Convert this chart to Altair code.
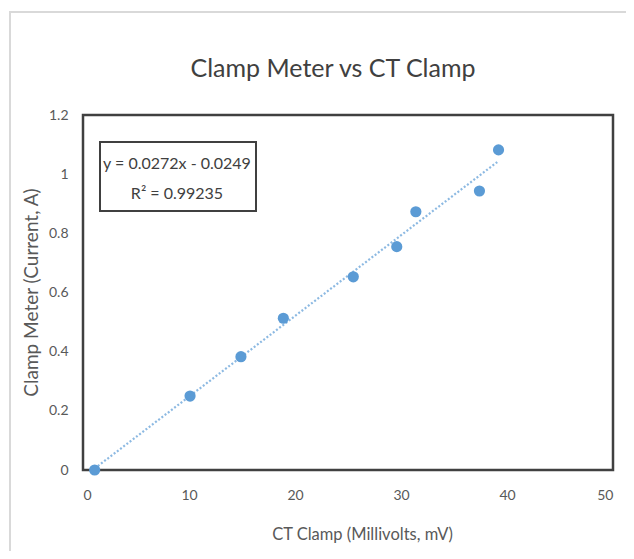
import altair as alt
import pandas as pd

ct_mv = [1.1, 10.1, 14.9, 18.9, 25.5, 29.6, 31.4, 37.4, 39.2]
current_a = [0.0, 0.25, 0.383, 0.513, 0.653, 0.755, 0.873, 0.943, 1.082]
eq_line1 = "y = 0.0272x - 0.0249"
eq_line2 = "R² = 0.99235"
x_ticks = [0, 10, 20, 30, 40, 50]
y_ticks = [0, 0.2, 0.4, 0.6, 0.8, 1.0, 1.2]

df = pd.DataFrame({"x": ct_mv, "y": current_a})
FONT = "Lato"
GRAY = "#595959"
BLUE = "#5B9BD5"

xs = alt.Scale(domain=[0, 50], nice=False)
ys = alt.Scale(domain=[0, 1.2], nice=False)
xax = alt.Axis(values=x_ticks, grid=False, ticks=False, domain=False, labelFontSize=14,
               labelColor=GRAY, labelFont=FONT, labelPadding=18,
               title="CT Clamp (Millivolts, mV)", titleFont=FONT, titleFontSize=16.5,
               titleFontWeight="normal", titleColor=GRAY,
               titleX=279, titleY=64, titleAlign="center", titleBaseline="middle")
yax = alt.Axis(values=y_ticks, grid=False, ticks=False, domain=False, labelFontSize=14,
               labelColor=GRAY, labelFont=FONT, labelPadding=15,
               labelExpr="datum.value == 1 ? '1' : (datum.value == 0 ? '0' : format(datum.value, '.1f'))",
               title="Clamp Meter (Current, A)", titleFont=FONT, titleFontSize=19,
               titleFontWeight="normal", titleColor=GRAY,
               titleX=-52, titleY=177, titleAngle=-90, titleAlign="center",
               titleBaseline="middle")

base = alt.Chart(df)

trend = base.transform_regression("x", "y", method="linear").mark_line(
    color=BLUE, strokeWidth=2.2, strokeDash=[2, 2], opacity=0.7
).encode(x=alt.X("x:Q", scale=xs, axis=xax), y=alt.Y("y:Q", scale=ys, axis=yax))

pts = base.mark_circle(color=BLUE, size=125, opacity=1).encode(
    x=alt.X("x:Q", scale=xs), y=alt.Y("y:Q", scale=ys)
)

one = pd.DataFrame({"k": [0]})
box = alt.Chart(one).mark_rect(
    fill="white", stroke="#404040", strokeWidth=2
).encode(x=alt.value(17), x2=alt.value(173), y=alt.value(27), y2=alt.value(96))

eq1 = alt.Chart(one).mark_text(text=eq_line1, font=FONT, fontSize=16, color="#404040",
                               align="center", baseline="middle").encode(
    x=alt.value(94), y=alt.value(49))
eq2 = alt.Chart(one).mark_text(text=eq_line2, font=FONT, fontSize=16, color="#404040",
                               align="center", baseline="middle").encode(
    x=alt.value(94), y=alt.value(79))

frame = alt.Chart(one).mark_rect(
    fill=None, stroke="#d9d9d9", strokeWidth=2, clip=False
).encode(x=alt.value(-73), x2=alt.value(560), y=alt.value(-103), y2=alt.value(460))

chart = alt.layer(frame, trend, pts, box, eq1, eq2).properties(
    width=530, height=355,
    background="white",
    title=alt.TitleParams("Clamp Meter vs CT Clamp", font=FONT, fontSize=25,
                          fontWeight="normal", color="#404040", offset=0, dx=-15, dy=91,
                          baseline="alphabetic", frame="group"),
    autosize=alt.AutoSizeParams(type="none"),
    padding={"left": 75, "top": 107, "right": 13, "bottom": 81},
).configure_view(stroke="#404040", strokeWidth=2.5)

chart.save("out.html", embed_options={"renderer": "svg", "actions": False})
